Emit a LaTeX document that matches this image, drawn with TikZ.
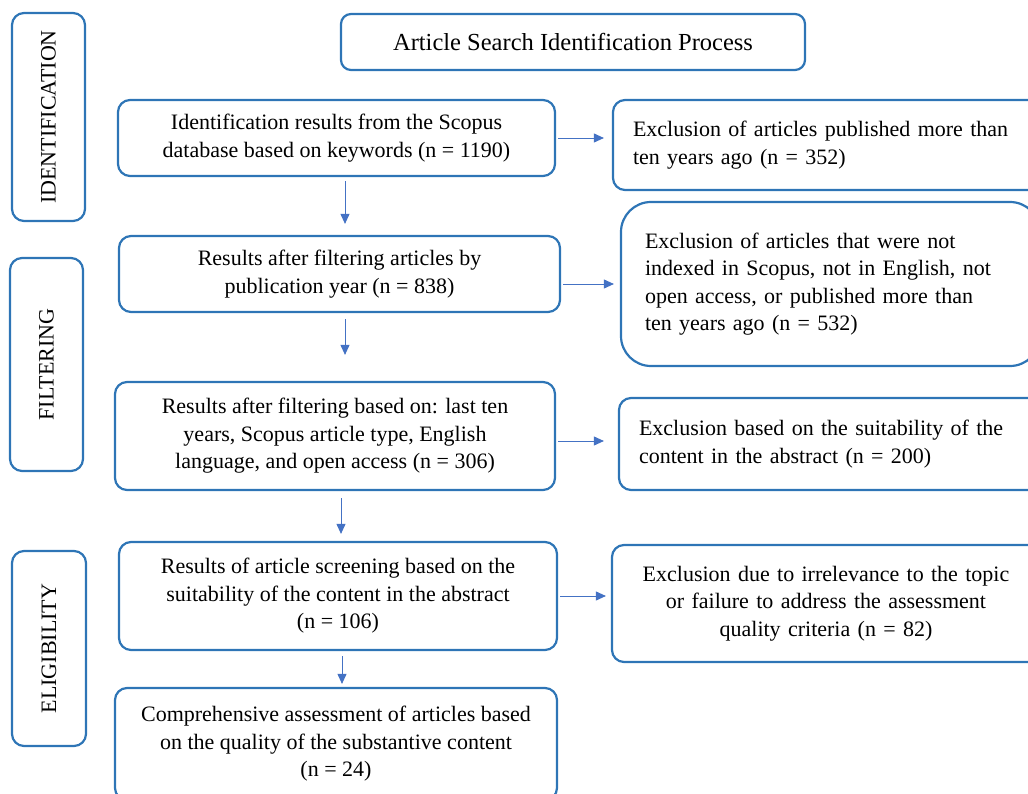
\documentclass[tikz,border=0pt]{standalone}
\usepackage{fontspec}
\setmainfont{Liberation Serif}
\usetikzlibrary{arrows.meta}
\definecolor{boxblue}{RGB}{46,117,182}
\definecolor{arrblue}{RGB}{68,114,196}

\begin{document}
\begin{tikzpicture}[x=1pt,y=1pt,
    box/.style={draw=boxblue,line width=2.2pt,rounded corners=12pt,align=center,
      font=\fontsize{22}{27.5}\selectfont,inner sep=0pt},
    sidebox/.style={box,minimum width=73pt},
    exbox/.style={box,align=left,inner xsep=20pt},
    arr/.style={draw=arrblue,line width=0.9pt,-{Triangle[length=10pt,width=9pt]}}]
  \useasboundingbox (0,0) rectangle (1028,-794);
  \clip (0,0) rectangle (1028,-794);

  % stage labels
  \node[sidebox,minimum height=208pt] (idn) at (48.5,-117) {\rotatebox{90}{IDENTIFICATION}};
  \node[sidebox,minimum height=213pt] (flt) at (46.5,-364.5) {\rotatebox{90}{FILTERING}};
  \node[sidebox,minimum width=74pt,minimum height=195pt] (elg) at (49,-648.5) {\rotatebox{90}{ELIGIBILITY}};

  % main column
  \node[box,rounded corners=10pt,minimum width=464pt,minimum height=56pt,
    font=\fontsize{24.5}{27.5}\selectfont] (title) at (573,-42) {Article Search Identification Process};
  \node[box,minimum width=437pt,minimum height=76pt] (res1) at (336.5,-138)
    {Identification results from the Scopus\\database based on keywords (n = 1190)};
  \node[box,minimum width=441pt,minimum height=76pt] (res2) at (339.5,-274)
    {Results after filtering articles by\\publication year (n = 838)};
  \node[box,minimum width=440pt,minimum height=108pt] (res3) at (335,-436)
    {Results after filtering based on: last ten\\years, Scopus article type, English\\language, and open access (n = 306)};
  \node[box,minimum width=438pt,minimum height=108pt] (res4) at (338,-596)
    {Results of article screening based on the\\suitability of the content in the abstract\\(n = 106)};
  \node[box,minimum width=442pt,minimum height=112pt] (res5) at (336,-744)
    {Comprehensive assessment of articles based\\on the quality of the substantive content\\(n = 24)};

  % exclusions
  \node[exbox,text width=387pt,minimum height=90pt] (exc1) at (826.5,-145)
    {Exclusion of articles published more than\\ten years ago (n = 352)};
  \node[exbox,rounded corners=30pt,inner xsep=24pt,text width=371pt,minimum height=164pt] (exc2) at (830.5,-284)
    {Exclusion of articles that were not\\indexed in Scopus, not in English, not\\open access, or published more than\\ten years ago (n = 532)};
  \node[exbox,text width=381pt,minimum height=92pt] (exc3) at (829.5,-444)
    {Exclusion based on the suitability of the\\content in the abstract (n = 200)};
  \node[box,text width=388pt,inner xsep=20pt,minimum height=117pt] (exc4) at (826,-603.5)
    {Exclusion due to irrelevance to the topic\\or failure to address the assessment\\quality criteria (n = 82)};

  % arrows down
  \draw[arr,shorten <=4pt,shorten >=11pt] ([xshift=8.5pt]res1.south) -- ([xshift=8.5pt]res1.south |- res2.north);
  \draw[arr,shorten <=6pt,shorten >=26pt] ([xshift=5.5pt]res2.south) -- ([xshift=5.5pt]res2.south |- res3.north);
  \draw[arr,shorten <=7pt,shorten >=7pt] ([xshift=6pt]res3.south) -- ([xshift=6pt]res3.south |- res4.north);
  \draw[arr,shorten <=5pt,shorten >=3pt] ([xshift=4pt]res4.south) -- ([xshift=4pt]res4.south |- res5.north);

  % arrows right
  \draw[arr,shorten <=2pt,shorten >=8pt] (res1.east) -- (res1.east -| exc1.west);
  \draw[arr,shorten <=2pt,shorten >=6pt] (res2.east |- exc2.west) -- (exc2.west);
  \draw[arr,shorten <=2pt,shorten >=14pt] ([yshift=-5pt]res3.east) -- ([yshift=-5pt]res3.east -| exc3.west);
  \draw[arr,shorten <=2pt,shorten >=5pt] (res4.east) -- (res4.east -| exc4.west);
\end{tikzpicture}
\end{document}
